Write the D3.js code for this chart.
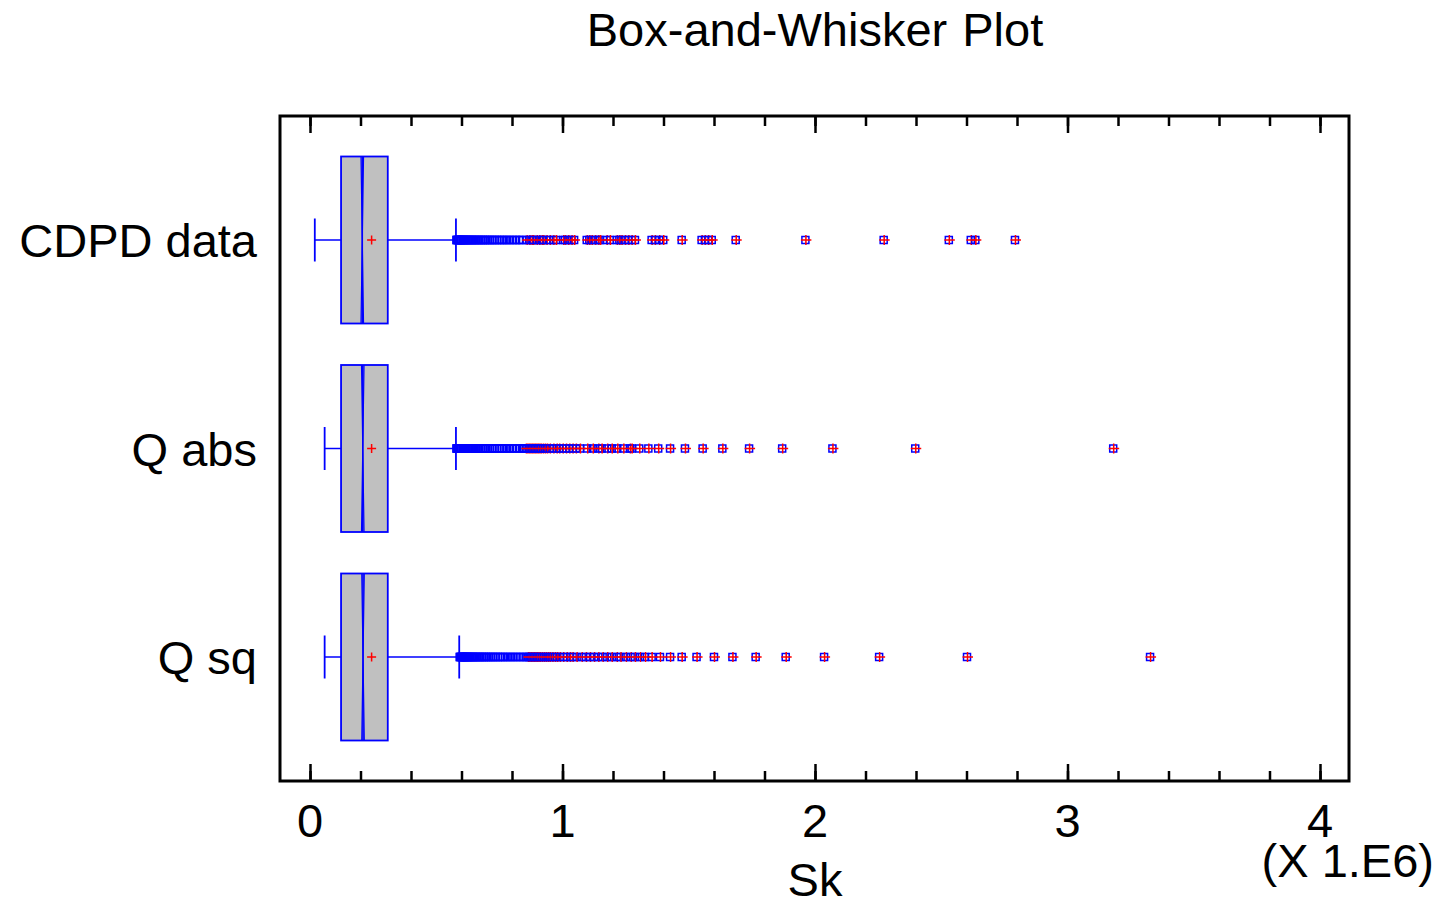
<!DOCTYPE html>
<html>
<head>
<meta charset="utf-8">
<script src="https://cdn.jsdelivr.net/npm/d3@7"></script>
<style>
  html, body { margin: 0; padding: 0; background: #fff; }
  svg { display: block; }
  text { font-family: "Liberation Sans", Arial, sans-serif; fill: #000; }
</style>
</head>
<body>
<svg id="chart" width="1441" height="904"></svg>
<script>
// ---------- data (values in units of 1e6) ----------
const categories = ["CDPD data", "Q abs", "Q sq"];
const lowerWhisker = [0.019, 0.058, 0.058];
const q1Values     = [0.123, 0.123, 0.123];
const medians      = [0.207, 0.209, 0.210];
const q3Values     = [0.308, 0.308, 0.308];
const upperWhisker = [0.578, 0.578, 0.591];
const means        = [0.244, 0.244, 0.244];
const notchHalf    = [0.005, 0.005, 0.005];

// outside points (beyond 1.5 IQR)
const nearCDPD = [0.580,0.582,0.585,0.588,0.591,0.594,0.597,0.600,0.604,0.608,0.612,0.616,0.620,0.625,0.630,0.635,0.640,0.646,0.652,0.658,0.664,0.670,0.677,0.684,0.691,0.698,0.706,0.714,0.722,0.731,0.740,0.750,0.760,0.770,0.781,0.792,0.804,0.816,0.828,0.840];
const nearQabs = [0.580,0.582,0.585,0.588,0.591,0.594,0.597,0.600,0.604,0.608,0.612,0.616,0.620,0.625,0.630,0.635,0.640,0.646,0.652,0.658,0.664,0.670,0.677,0.684,0.691,0.698,0.706,0.714,0.722,0.731,0.740,0.750,0.760,0.770,0.781,0.792,0.804,0.816,0.828,0.840,0.848];
const nearQsq  = [0.593,0.595,0.598,0.601,0.604,0.607,0.610,0.614,0.618,0.622,0.626,0.630,0.635,0.640,0.645,0.650,0.656,0.662,0.668,0.674,0.681,0.688,0.695,0.702,0.710,0.718,0.726,0.735,0.744,0.753,0.763,0.773,0.784,0.795,0.806,0.818,0.830,0.842,0.854];

// far outside points (beyond 3 IQR)
const farCDPD = [0.858,0.869,0.878,0.884,0.898,0.908,0.918,0.924,0.937,0.950,0.964,0.974,1.003,1.010,1.023,1.036,1.046,1.096,1.106,1.116,1.129,1.142,1.149,1.175,1.188,1.215,1.225,1.234,1.248,1.261,1.274,1.287,1.353,1.366,1.383,1.399,1.472,1.551,1.564,1.577,1.591,1.686,1.962,2.272,2.530,2.617,2.635,2.792];
const farQabs = [0.855,0.861,0.867,0.873,0.879,0.885,0.891,0.897,0.903,0.909,0.915,0.923,0.931,0.939,0.950,0.964,0.977,0.987,1.001,1.014,1.027,1.040,1.053,1.069,1.098,1.120,1.142,1.155,1.177,1.195,1.217,1.241,1.267,1.274,1.304,1.340,1.379,1.426,1.485,1.555,1.633,1.739,1.870,2.069,2.397,3.181];
const farQsq  = [0.863,0.869,0.875,0.881,0.887,0.893,0.899,0.905,0.911,0.919,0.927,0.935,0.943,0.950,0.960,0.970,0.979,0.990,1.003,1.017,1.030,1.040,1.056,1.076,1.093,1.109,1.125,1.142,1.159,1.177,1.195,1.215,1.230,1.251,1.270,1.287,1.307,1.327,1.353,1.386,1.426,1.472,1.531,1.600,1.673,1.765,1.884,2.036,2.254,2.602,3.327];

const nearOutliers = [nearCDPD, nearQabs, nearQsq];
const farOutliers  = [farCDPD, farQabs, farQsq];

const majorTicks = [0, 1, 2, 3, 4];
const titleText = "Box-and-Whisker Plot";
const xLabel = "Sk";
const xMultiplier = "(X 1.E6)";

// ---------- layout ----------
const frame = { left: 280, right: 1349, top: 116, bottom: 781 };
const svg = d3.select("#chart");
const FONT = 47;
const BLUE = "#0000ff";
const RED = "#ff0000";

const x = d3.scaleLinear().domain([0, 4]).range([310, 1320]);
const y = d3.scalePoint().domain(categories).range([240, 657]);
const boxHalf = 83.5;
const capHalf = 21.5;

// title
svg.append("text")
  .attr("x", 815).attr("y", 46)
  .attr("text-anchor", "middle")
  .attr("font-size", FONT)
  .attr("word-spacing", 2)
  .text(titleText);

// axes ticks bottom (inward) and top (inward)
const bottomMajor = d3.axisBottom(x).tickValues(majorTicks).tickSize(-17).tickFormat("");
const bottomMinor = d3.axisBottom(x).ticks(20).tickSize(-10).tickFormat("");
const topMajor = d3.axisTop(x).tickValues(majorTicks).tickSize(-17).tickFormat("");
const topMinor = d3.axisTop(x).ticks(20).tickSize(-10).tickFormat("");

function styleAxis(g) {
  g.select(".domain").remove();
  g.selectAll(".tick line").attr("stroke", "#000").attr("stroke-width", 2.5);
}
svg.append("g").attr("transform", `translate(0,${frame.bottom})`).call(bottomMinor).call(styleAxis);
svg.append("g").attr("transform", `translate(0,${frame.bottom})`).call(bottomMajor).call(styleAxis);
svg.append("g").attr("transform", `translate(0,${frame.top})`).call(topMinor).call(styleAxis);
svg.append("g").attr("transform", `translate(0,${frame.top})`).call(topMajor).call(styleAxis);

// tick labels
svg.append("g").selectAll("text").data(majorTicks).join("text")
  .attr("x", d => x(d)).attr("y", 837)
  .attr("text-anchor", "middle")
  .attr("font-size", FONT)
  .text(d => d);

// axis title + multiplier
svg.append("text").attr("x", 815).attr("y", 896).attr("text-anchor", "middle").attr("font-size", FONT).text(xLabel);
svg.append("text").attr("x", 1434).attr("y", 877).attr("text-anchor", "end").attr("font-size", FONT).text(xMultiplier);

// category labels
svg.append("g").selectAll("text").data(categories).join("text")
  .attr("x", 257).attr("y", d => y(d) + 17)
  .attr("text-anchor", "end")
  .attr("font-size", FONT)
  .text(d => d);

// boxes
const plot = svg.append("g");
categories.forEach((c, i) => {
  const cy = y(c);
  const g = plot.append("g");
  // whiskers
  g.append("line").attr("x1", x(lowerWhisker[i])).attr("x2", x(q1Values[i]))
    .attr("y1", cy).attr("y2", cy).attr("stroke", BLUE).attr("stroke-width", 1.5);
  g.append("line").attr("x1", x(q3Values[i])).attr("x2", x(upperWhisker[i]))
    .attr("y1", cy).attr("y2", cy).attr("stroke", BLUE).attr("stroke-width", 1.5);
  [lowerWhisker[i], upperWhisker[i]].forEach(v => {
    g.append("line").attr("x1", x(v)).attr("x2", x(v))
      .attr("y1", cy - capHalf).attr("y2", cy + capHalf)
      .attr("stroke", BLUE).attr("stroke-width", 1.8);
  });
  // box
  g.append("rect")
    .attr("x", x(q1Values[i])).attr("y", cy - boxHalf)
    .attr("width", x(q3Values[i]) - x(q1Values[i])).attr("height", 2 * boxHalf)
    .attr("fill", "#c0c0c0").attr("stroke", BLUE).attr("stroke-width", 1.8);
  // notch + median
  const m = medians[i], n = notchHalf[i];
  const notchPath = d3.path();
  notchPath.moveTo(x(m - n), cy - boxHalf); notchPath.lineTo(x(m), cy); notchPath.lineTo(x(m - n), cy + boxHalf);
  notchPath.moveTo(x(m + n), cy - boxHalf); notchPath.lineTo(x(m), cy); notchPath.lineTo(x(m + n), cy + boxHalf);
  g.append("path").attr("d", notchPath.toString()).attr("fill", "none").attr("stroke", BLUE).attr("stroke-width", 1.2);
  g.append("line").attr("x1", x(m)).attr("x2", x(m))
    .attr("y1", cy - boxHalf).attr("y2", cy + boxHalf)
    .attr("stroke", BLUE).attr("stroke-width", 1.6);
  // mean
  const mx = x(means[i]);
  g.append("path").attr("d", `M${mx - 4.5},${cy}H${mx + 4.5}M${mx},${cy - 4.5}V${cy + 4.5}`)
    .attr("stroke", RED).attr("stroke-width", 1.5);

  // near outliers: blue hollow squares
  g.append("g").selectAll("rect").data(nearOutliers[i]).join("rect")
    .attr("x", d => x(d) - 3.5).attr("y", cy - 3.5)
    .attr("width", 7).attr("height", 7)
    .attr("fill", "none").attr("stroke", BLUE).attr("stroke-width", 1.6);
  // far outliers: blue square + red plus
  const far = g.append("g").selectAll("g").data(farOutliers[i]).join("g")
    .attr("transform", d => `translate(${x(d)},${cy})`);
  far.append("rect").attr("x", -3.5).attr("y", -3.5).attr("width", 7).attr("height", 7)
    .attr("fill", "none").attr("stroke", BLUE).attr("stroke-width", 1.5);
  far.append("path").attr("d", "M-4.5,0H6M0.5,-5V5")
    .attr("stroke", RED).attr("stroke-width", 1.5);
});

// frame
svg.append("rect")
  .attr("x", frame.left).attr("y", frame.top)
  .attr("width", frame.right - frame.left).attr("height", frame.bottom - frame.top)
  .attr("fill", "none").attr("stroke", "#000").attr("stroke-width", 3);
</script>
</body>
</html>
